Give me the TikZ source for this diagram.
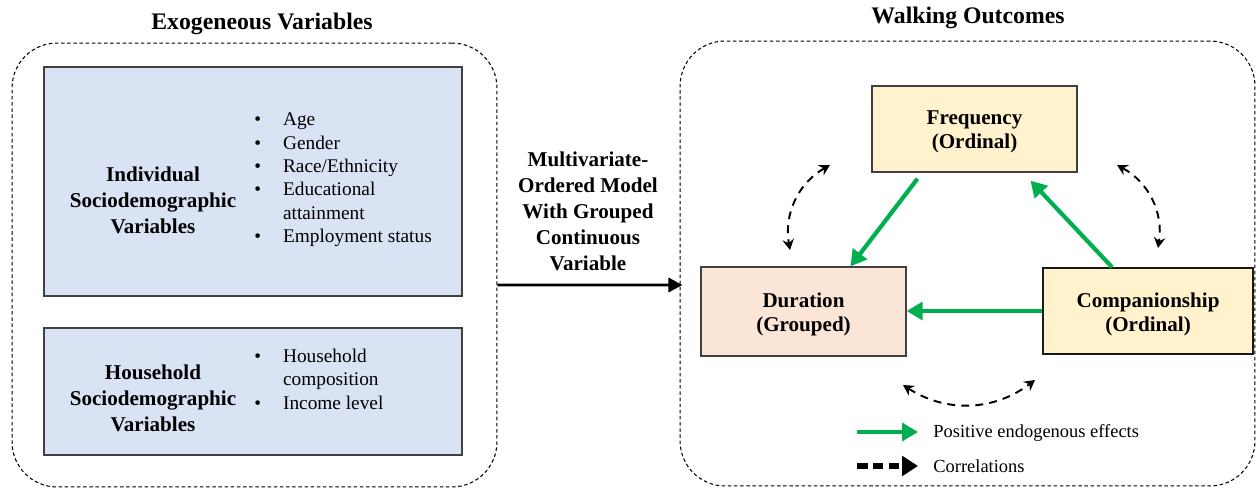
\documentclass[tikz,border=0pt]{standalone}
\usepackage{fontspec}
\setmainfont{Liberation Serif}
\usetikzlibrary{arrows.meta,calc}
\definecolor{boxblue}{HTML}{DAE3F3}
\definecolor{boxyellow}{HTML}{FFF2CC}
\definecolor{boxpeach}{HTML}{FBE5D6}
\definecolor{effgreen}{HTML}{00B050}
\tikzset{
	varbox/.style={draw=black!75, line width=0.8pt, inner sep=0pt},
	groupframe/.style={draw=black, dash pattern=on 2pt off 1.5pt, line width=0.6pt, rounded corners=0.9cm, inner sep=0pt},
	effect/.style={draw=effgreen, line width=2.4pt, -{Triangle[length=9pt,width=10pt]}},
	corr/.style={draw=black, line width=1.1pt, dash pattern=on 4.5pt off 3.5pt, {Stealth[length=6pt,width=6.5pt,inset=2pt]}-{Stealth[length=6pt,width=6.5pt,inset=2pt]}},
	boldlbl/.style={font=\fontsize{12}{14.8}\selectfont\bfseries, align=center, inner sep=0pt},
	outlbl/.style={font=\fontsize{12}{13.6}\selectfont\bfseries, align=center, inner sep=0pt},
	titlelbl/.style={font=\fontsize{13.5}{16}\selectfont\bfseries, inner sep=0pt},
	itemlist/.style={anchor=west, font=\fontsize{11}{13.3}\selectfont, inner sep=0pt},
	legendlbl/.style={anchor=west, font=\fontsize{10.5}{12}\selectfont, inner sep=0pt}
}
\newcommand{\bulletlist}[1]{\begin{tabular}{@{}l@{\hspace{12.5pt}}l@{}}#1\end{tabular}}

\begin{document}
\begin{tikzpicture}[x=0.02cm, y=-0.02cm]
		%%%%% START %%%%%
		\useasboundingbox (0,0) rectangle (1257,489);
		
		% exogenous side
		\node[titlelbl] (exotitle) at (262,24) {Exogeneous Variables};
		\node[groupframe, minimum width=9.7cm, minimum height=8.88cm] (exoframe) at (254.5,265) {};
		
		\node[varbox, fill=boxblue, minimum width=8.36cm, minimum height=4.58cm] (indiv) at (253,181.5) {};
		\node[boldlbl] (indivlbl) at (153,200) {Individual\\Sociodemographic\\Variables};
		\node[itemlist] (indivlist) at (254,179.5) {\bulletlist{%
			\textbullet & Age\\
			\textbullet & Gender\\
			\textbullet & Race/Ethnicity\\
			\textbullet & Educational\\
			 & attainment\\
			\textbullet & Employment status}};
		
		\node[varbox, fill=boxblue, minimum width=8.36cm, minimum height=2.54cm] (house) at (253,391.5) {};
		\node[boldlbl] (houselbl) at (153,398) {Household\\Sociodemographic\\Variables};
		\node[itemlist] (houselist) at (254,381) {\bulletlist{%
			\textbullet & Household\\
			 & composition\\
			\textbullet & Income level}};
		
		% model
		\node[boldlbl] (modellbl) at (588,211) {Multivariate-\\Ordered Model\\With Grouped\\Continuous\\Variable};
		
		% walking outcomes side
		\node[titlelbl] (walktitle) at (968,18) {Walking Outcomes};
		\node[groupframe, minimum width=11.5cm, minimum height=8.9cm] (walkframe) at (967.5,263.5) {};
		
		\node[varbox, fill=boxyellow, minimum width=4.1cm, minimum height=1.72cm] (freq) at (974.5,129) {};
		\node[outlbl] (freqlbl) at ($(freq)+(0,3)$) {Frequency\\(Ordinal)};
		\node[varbox, fill=boxpeach, minimum width=4.1cm, minimum height=1.78cm] (dur) at (803.5,311.5) {};
		\node[outlbl] (durlbl) at ($(dur)+(0,3)$) {Duration\\(Grouped)};
		\node[varbox, draw=black!90, line width=1pt, fill=boxyellow, minimum width=4.2cm, minimum height=1.72cm] (comp) at (1148,311) {};
		\node[outlbl] (complbl) at ($(comp)+(0,3)$) {Companionship\\(Ordinal)};
		
		\draw[black, line width=1.7pt, -{Triangle[length=8pt,width=8pt]}] ($(exoframe.east)+(0,20)$) -- ($(walkframe.west)+(3,21.5)$);
		
		\draw[effect] ($(freq.south)+(-57,6)$) -- ($(dur.north)+(47,0)$);
		\draw[effect] ($(comp.north)+(-36,0)$) -- ($(freq.south)+(56,8)$);
		\draw[effect] (comp.west) -- (dur.east |- comp.west);
		
		\coordinate (cl1) at (830,165);
		\coordinate (cl2) at (790,250);
		\coordinate (cr1) at (1117,165);
		\coordinate (cr2) at (1158,248);
		\coordinate (cb1) at (903,385);
		\coordinate (cb2) at (1035,380);
		\draw[corr] (cl1) to[bend right=35] (cl2);
		\draw[corr] (cr1) to[bend left=35] (cr2);
		\draw[corr] (cb1) to[bend right=35] (cb2);
		
		% legend
		\coordinate (lg1a) at (857,432);
		\coordinate (lg1b) at (918,432);
		\coordinate (lg2a) at (857,466);
		\coordinate (lg2b) at (918,466);
		\draw[effect, line width=2.8pt] (lg1a) -- (lg1b);
		\draw[black, line width=3pt, dash pattern=on 6pt off 3pt, -{Triangle[length=9pt,width=11pt]}] (lg2a) -- (lg2b);
		\node[legendlbl] (lg1lbl) at (933,433) {Positive endogenous effects};
		\node[legendlbl] (lg2lbl) at (933,466) {Correlations};
		%%%%% END %%%%%
\end{tikzpicture}
\end{document}
